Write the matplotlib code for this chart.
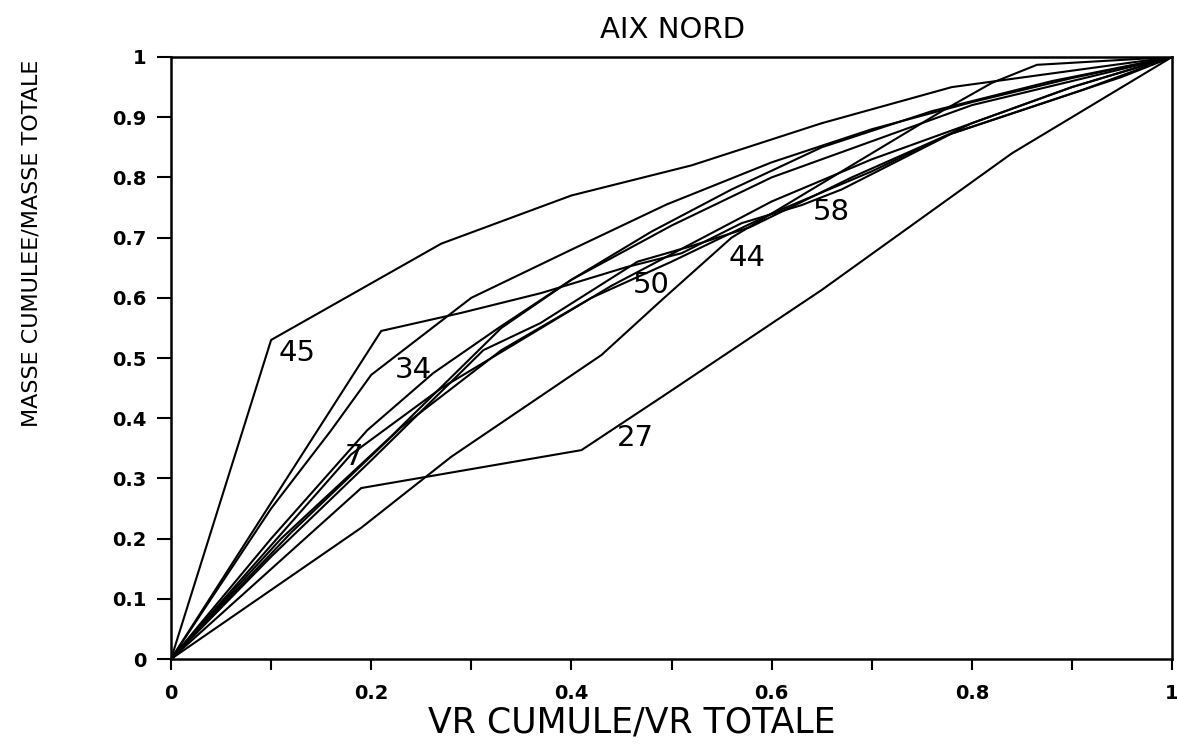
import matplotlib.pyplot as plt

# cumulative VR fraction (x) vs cumulative mass fraction (y), one curve per event
x45 = [0, 0.10, 0.27, 0.40, 0.52, 0.65, 0.78, 1]
y45 = [0, 0.53, 0.69, 0.77, 0.82, 0.89, 0.95, 1]

x58 = [0, 0.21, 0.29, 0.37, 0.455, 0.51, 0.57, 0.63, 0.67, 0.78, 0.91, 1]
y58 = [0, 0.545, 0.575, 0.608, 0.651, 0.674, 0.724, 0.754, 0.78, 0.873, 0.945, 1]

xa = [0, 0.10, 0.16, 0.20, 0.30, 0.40, 0.495, 0.60, 0.70, 0.80, 0.90, 1]
ya = [0, 0.25, 0.38, 0.472, 0.60, 0.68, 0.755, 0.825, 0.88, 0.925, 0.965, 1]

x34 = [0, 0.10, 0.196, 0.262, 0.329, 0.40, 0.48, 0.56, 0.65, 0.76, 0.88, 1]
y34 = [0, 0.20, 0.38, 0.475, 0.552, 0.63, 0.71, 0.78, 0.85, 0.91, 0.96, 1]

x7 = [0, 0.09, 0.18, 0.27, 0.35, 0.44, 0.52, 0.60, 0.70, 0.80, 0.90, 1]
y7 = [0, 0.17, 0.34, 0.45, 0.53, 0.62, 0.69, 0.76, 0.83, 0.89, 0.95, 1]

x44 = [0, 0.19, 0.28, 0.43, 0.49, 0.56, 0.69, 0.77, 0.82, 0.865, 1]
y44 = [0, 0.218, 0.336, 0.505, 0.596, 0.70, 0.83, 0.91, 0.957, 0.987, 1]

x27 = [0, 0.19, 0.41, 0.49, 0.65, 0.84, 1]
y27 = [0, 0.284, 0.347, 0.435, 0.613, 0.84, 1]

x50 = [0, 0.10, 0.20, 0.312, 0.369, 0.466, 0.518, 0.578, 0.68, 0.775, 0.95, 1]
y50 = [0, 0.17, 0.33, 0.513, 0.558, 0.66, 0.685, 0.717, 0.80, 0.87, 0.967, 1]

xb = [0, 0.12, 0.23, 0.33, 0.42, 0.50, 0.60, 0.70, 0.80, 0.90, 1]
yb = [0, 0.21, 0.385, 0.513, 0.60, 0.66, 0.74, 0.81, 0.89, 0.95, 1]

xc = [0, 0.11, 0.22, 0.33, 0.40, 0.50, 0.60, 0.70, 0.80, 1]
yc = [0, 0.20, 0.37, 0.55, 0.63, 0.72, 0.80, 0.86, 0.92, 1]

curves = [(x45, y45), (x58, y58), (xa, ya), (x34, y34), (x7, y7),
          (x44, y44), (x27, y27), (x50, y50), (xb, yb), (xc, yc)]

labels = ['45', '34', '7', '50', '44', '58', '27']
label_x = [0.126, 0.242, 0.183, 0.480, 0.575, 0.660, 0.464]
label_y = [0.508, 0.480, 0.336, 0.621, 0.666, 0.743, 0.367]

fig = plt.figure(figsize=(11.77, 7.5), dpi=100)
ax = fig.add_axes([0.1453, 0.1213, 0.8505, 0.8027])

for xs, ys in curves:
    ax.plot(xs, ys, color='black', lw=1.5)

for t, lx, ly in zip(labels, label_x, label_y):
    ax.text(lx, ly, t, fontsize=21, ha='center', va='center')

ax.set_xlim(0, 1)
ax.set_ylim(0, 1)

xt = [i / 10 for i in range(11)]
ax.set_xticks(xt)
ax.set_xticklabels(['0' if v == 0 else ('1' if v == 1 else (f'{v:.1f}' if i % 2 == 0 else ''))
                    for i, v in enumerate(xt)], fontweight='bold', fontsize=14)
ax.set_yticks(xt)
ax.set_yticklabels(['0' if v == 0 else ('1' if v == 1 else f'{v:.1f}') for v in xt],
                   fontweight='bold', fontsize=14)
ax.tick_params(axis='y', direction='out', length=10, width=1.5, pad=8)
ax.tick_params(axis='x', direction='out', length=8, width=1.5, pad=10)

for s in ax.spines.values():
    s.set_linewidth(1.8)

fig.text(0.571, 0.96, 'AIX NORD', fontsize=21, ha='center', va='center')
fig.text(0.537, 0.037, 'VR CUMULE/VR TOTALE', fontsize=25, ha='center', va='center')
fig.text(0.027, 0.675, 'MASSE CUMULEE/MASSE TOTALE', fontsize=16, rotation=90,
         ha='center', va='center')

fig.savefig('out.png', dpi=100)
